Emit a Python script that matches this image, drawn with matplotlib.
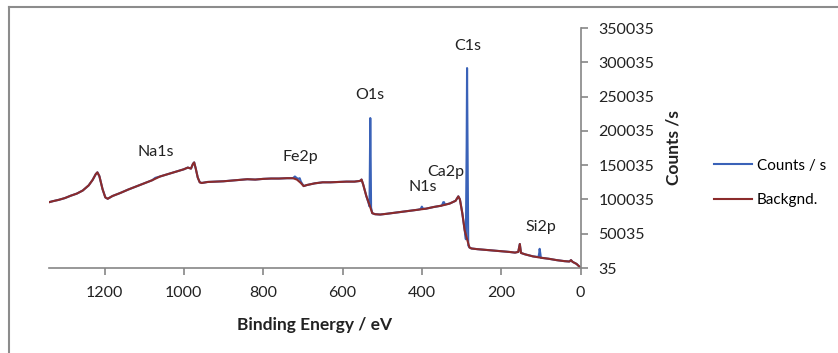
import matplotlib.pyplot as plt
from matplotlib.lines import Line2D

plt.rcParams['font.family'] = ['Lato', 'DejaVu Sans']

# background spectrum (binding energy eV, counts/s)
be_bg = [1340, 1330, 1315, 1300, 1285, 1270, 1255, 1240, 1230, 1222, 1218, 1213,
         1205, 1198, 1192, 1180, 1160, 1140, 1120, 1100, 1080, 1060, 1040, 1020,
         1000, 990, 982, 977, 974, 970, 965, 960, 955, 940, 920, 900, 880, 860,
         840, 820, 800, 780, 760, 740, 725, 715, 705, 698, 690, 670, 650, 630,
         610, 590, 570, 556, 552, 548, 540, 532, 525, 518, 505, 490, 470, 450,
         430, 410, 390, 370, 350, 330, 315, 308, 304, 298, 292, 285, 280, 275,
         260, 240, 220, 200, 180, 165, 157, 153, 150, 140, 120, 100, 80, 60, 40,
         28, 24, 20, 10, 0]
bg = [96000, 97500, 99500, 102000, 105500, 108500, 113000, 120500, 128500, 137000, 139500, 134000,
      115000, 103000, 101000, 105000, 109500, 114500, 119000, 123500, 128000, 133500, 137000, 140500,
      144000, 146500, 145000, 152000, 154000, 145000, 132000, 125000, 124000, 125500, 126000, 126500, 127500, 128500,
      129500, 129000, 130000, 130500, 130500, 131000, 131000, 129000, 124000, 119500, 121000, 123500, 125000, 125000,
      125500, 126000, 126000, 127000, 129000, 122000, 105000, 92000, 80000, 78500, 78000, 79000, 80500, 82000,
      83500, 85000, 86500, 89000, 91000, 94000, 98000, 104500, 100000, 80000, 55000, 40000, 30000, 28500,
      27500, 26500, 25500, 24500, 23500, 22500, 23500, 35000, 22000, 20000, 17000, 15000, 13500, 11500, 10000,
      9500, 11500, 9000, 6000, 500]

# measured counts (same as background except at the peaks)
be_counts = [1340, 1330, 1315, 1300, 1285, 1270, 1255, 1240, 1230, 1222, 1218, 1213,
             1205, 1198, 1192, 1180, 1160, 1140, 1120, 1100, 1080, 1072, 1060, 1040, 1020,
             1000, 990, 982, 977, 974, 970, 965, 960, 955, 940, 920, 900, 880, 860,
             840, 820, 800, 780, 760, 740, 725, 720, 716, 712, 708, 705, 698, 690, 670, 650, 630,
             610, 590, 570, 556, 552, 548, 540, 535, 532, 531, 530, 529, 528, 525, 518, 505, 490, 470, 450,
             430, 410, 403, 400, 397, 390, 370, 350, 348, 346, 344, 342, 330, 315, 308, 304, 298, 292,
             289, 287, 286, 285, 283, 280, 275,
             260, 240, 220, 200, 180, 165, 157, 153, 150, 140, 120, 106, 104, 103, 101, 100, 80, 60, 40,
             28, 24, 20, 10, 0]
counts = [96000, 97500, 99500, 102000, 105500, 108500, 113000, 120500, 128500, 137000, 139500, 134000,
          115000, 103000, 101000, 105000, 109500, 114500, 119000, 123500, 128000, 131500, 133500, 137000, 140500,
          144000, 146500, 145000, 152000, 154000, 145000, 132000, 125000, 124000, 125500, 126000, 126500, 127500, 128500,
          129500, 129000, 130000, 130500, 130500, 131000, 131000, 133500, 131500, 130000, 131000, 126000, 119500, 121000, 123500, 125000, 125000,
          125500, 126000, 126000, 127000, 129000, 122000, 105000, 96000, 90000, 150000, 218700, 160000, 88000, 80000, 78500, 78000, 79000, 80500, 82000,
          83500, 85000, 86000, 89500, 86500, 86500, 89000, 91000, 93000, 96000, 96000, 92500, 94000, 98000, 104500, 100000, 80000, 55000,
          42000, 180000, 291600, 200000, 33000, 30000, 28500,
          27500, 26500, 25500, 24500, 23500, 22500, 23500, 35000, 22000, 20000, 17000, 16000, 22000, 28000, 20000, 15000, 13500, 11500, 10000,
          9500, 11500, 9000, 6000, 500]

# peak labels
peak_names = ['Na1s', 'Fe2p', 'O1s', 'C1s', 'N1s', 'Ca2p', 'Si2p']
peak_label_be = [1070, 705, 530, 284, 398, 340, 100]
peak_label_y = [169000, 162000, 252000, 324000, 118500, 140500, 60000]

yticks = [35, 50035, 100035, 150035, 200035, 250035, 300035, 350035]
xticks = [1200, 1000, 800, 600, 400, 200, 0]

fig = plt.figure(figsize=(8.38, 3.53), dpi=100)
ax = fig.add_axes([49 / 838, 85 / 353, 531.5 / 838, 240 / 353])

blue = '#3A62B8'
red = '#8B2B2B'
ax.plot(be_counts, counts, color=blue, lw=1.5, label='Counts / s')
ax.plot(be_bg, bg, color=red, lw=1.5, label='Backgnd.')

ax.set_xlim(1340, 0)
ax.set_ylim(35, 350035)
ax.set_xticks(xticks)
ax.set_yticks(yticks)
ax.set_yticklabels([str(v) for v in yticks])

ax.yaxis.tick_right()
ax.yaxis.set_label_position('right')
for s in ['top', 'left']:
    ax.spines[s].set_visible(False)
for s in ['bottom', 'right']:
    ax.spines[s].set_color('#868686')
    ax.spines[s].set_linewidth(1.2)
ax.tick_params(axis='both', colors='#868686', labelcolor='#222222', labelsize=11.5, length=5, width=1.2)
ax.tick_params(axis='x', pad=8)
ax.tick_params(axis='y', pad=8)

ax.set_xlabel('Binding Energy / eV', fontsize=12.5, fontweight='bold', color='#222222', labelpad=12)
ax.set_ylabel('Counts /s', fontsize=12.5, fontweight='bold', color='#222222', labelpad=8)

for name, x, y in zip(peak_names, peak_label_be, peak_label_y):
    ax.text(x, y, name, ha='center', va='center', fontsize=11.5, color='#222222')

fig.legend(loc='upper left', bbox_to_anchor=(700 / 838, 1 - 145 / 353), frameon=False,
           fontsize=11, handlelength=2.5, handletextpad=0.3, labelspacing=1.35)

# chart area border
fig.add_artist(Line2D([9 / 838, 9 / 838], [0, 1 - 7 / 353], color='#8c8c8c', lw=1.5,
                      transform=fig.transFigure))
fig.add_artist(Line2D([9 / 838, 1], [1 - 7 / 353, 1 - 7 / 353], color='#8c8c8c', lw=1.5,
                      transform=fig.transFigure))

fig.savefig('out.png', dpi=100)
